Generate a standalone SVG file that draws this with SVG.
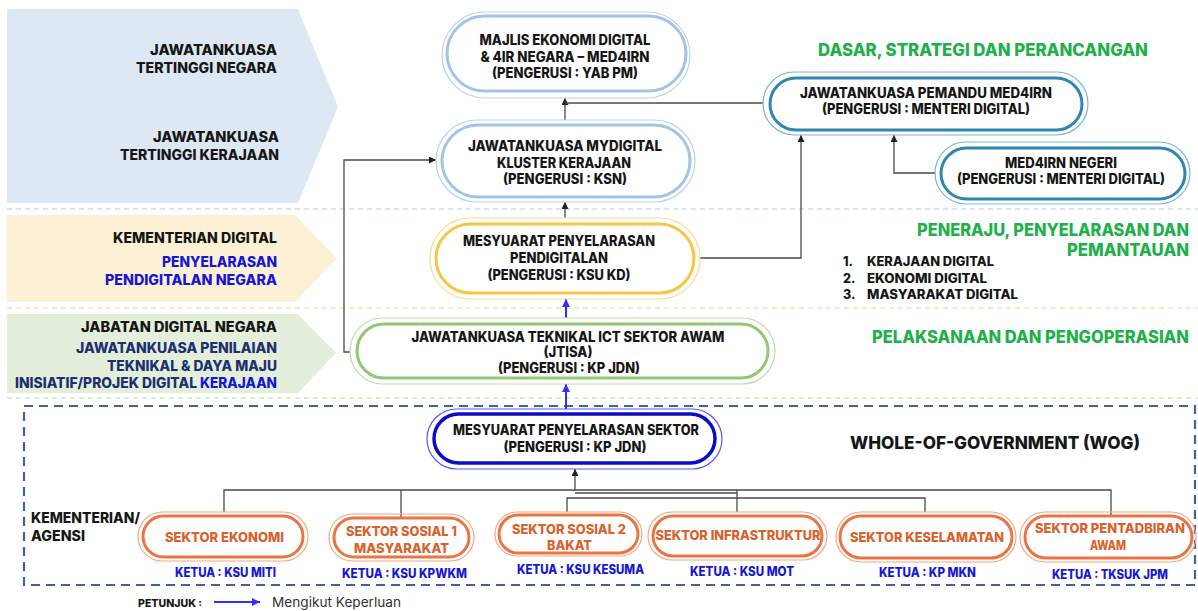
<svg xmlns="http://www.w3.org/2000/svg" width="1198" height="611" viewBox="0 0 1198 611">
<style>
text{font-family:Inter,"Liberation Sans",sans-serif;font-weight:800}
.k{fill:#161616}
.lb{font-size:14px;text-anchor:end}
.nt{font-size:14px;text-anchor:middle;fill:#161616}
.gt{font-size:17px;fill:#1fb04c}
.li{font-size:12.5px;fill:#161616}
.st{font-size:13.5px;text-anchor:middle;fill:#d9612c}
.kt{font-size:12.5px;text-anchor:middle;fill:#1616d8}
.bl{fill:#1616d8}
.nv{fill:#1d2f6f}
.sep{fill:none;stroke-width:1.5;stroke-dasharray:5 4}
.o{fill:none;stroke-width:1.2}
.i{fill:#fff;stroke-width:3}
.nb .o{stroke:#b9d2ee}.nb .i{stroke:#a3c3e8}
.ntl .o{stroke:#7ab6d4}.ntl .i{stroke:#2f86b0}
.ny .o{stroke:#f8dc8c}.ny .i{stroke:#f6c646}
.ng .o{stroke:#bcdca6}.ng .i{stroke:#95c674}
.nd .o{stroke:#5a5ae6}.nd .i{stroke:#0c0cc6;stroke-width:3.5}
.so .o{stroke:#f2a884}.so .i{stroke:#ea7442}
.cn{fill:none;stroke:#4a4a4a;stroke-width:1.3}
.cb{fill:none;stroke:#2f2fff;stroke-width:2}
</style>
<defs>
<marker id="ah" viewBox="0 0 10 10" refX="10" refY="5" markerWidth="7" markerHeight="7" markerUnits="userSpaceOnUse" orient="auto"><path d="M0,0 L10,5 L0,10 z" fill="#222"/></marker>
<marker id="ab" viewBox="0 0 10 10" refX="10" refY="5" markerWidth="8" markerHeight="8" markerUnits="userSpaceOnUse" orient="auto"><path d="M0,0 L10,5 L0,10 z" fill="#2f2fff"/></marker>
</defs>
<rect width="1198" height="611" fill="#fff"/>

<g id="bands">
<polygon points="7,9 298,9 338,107 298,203 7,203" fill="#dde8f4"/>
<polygon points="7,215 295,215 337,258 295,302 7,302" fill="#fdf1d5"/>
<polygon points="7,314 298,314 336,353 298,393 7,393" fill="#e3efdb"/>
<line class="sep" x1="7" y1="209" x2="1198" y2="209" stroke="#c9dbf0"/>
<line class="sep" x1="7" y1="308" x2="1198" y2="308" stroke="#fbe4ad"/>
<line class="sep" x1="7" y1="398" x2="1198" y2="398" stroke="#cfe8c0"/>
<rect x="24" y="406" width="1171" height="179" fill="none" stroke="#41629b" stroke-width="2.2" stroke-dasharray="9 6"/>
</g>

<g id="left-labels">
<text class="lb k" x="277" y="55" textLength="127" lengthAdjust="spacingAndGlyphs">JAWATANKUASA</text>
<text class="lb k" x="277" y="73" textLength="141" lengthAdjust="spacingAndGlyphs">TERTINGGI NEGARA</text>
<text class="lb k" x="279" y="142" textLength="126" lengthAdjust="spacingAndGlyphs">JAWATANKUASA</text>
<text class="lb k" x="279" y="160" textLength="159" lengthAdjust="spacingAndGlyphs">TERTINGGI KERAJAAN</text>
<text class="lb k" x="277" y="243" textLength="164" lengthAdjust="spacingAndGlyphs">KEMENTERIAN DIGITAL</text>
<text class="lb bl" x="277" y="267" textLength="115" lengthAdjust="spacingAndGlyphs">PENYELARASAN</text>
<text class="lb bl" x="277" y="285" textLength="172" lengthAdjust="spacingAndGlyphs">PENDIGITALAN NEGARA</text>
<text class="lb k" x="277" y="332" textLength="196" lengthAdjust="spacingAndGlyphs">JABATAN DIGITAL NEGARA</text>
<text class="lb nv" x="277" y="353" textLength="201" lengthAdjust="spacingAndGlyphs">JAWATANKUASA PENILAIAN</text>
<text class="lb nv" x="277" y="371" textLength="170" lengthAdjust="spacingAndGlyphs">TEKNIKAL &amp; DAYA MAJU</text>
<text class="nv" font-size="14" x="15" y="388" textLength="182" lengthAdjust="spacingAndGlyphs">INISIATIF/PROJEK DIGITAL</text>
<text class="bl" font-size="14" x="200" y="388" textLength="77" lengthAdjust="spacingAndGlyphs">KERAJAAN</text>
<text class="k" font-size="14" x="31" y="523" textLength="109" lengthAdjust="spacingAndGlyphs">KEMENTERIAN/</text>
<text class="k" font-size="14" x="31" y="541" textLength="54" lengthAdjust="spacingAndGlyphs">AGENSI</text>
</g>

<g id="right-labels">
<text class="gt" x="818" y="56" textLength="330" lengthAdjust="spacingAndGlyphs">DASAR, STRATEGI DAN PERANCANGAN</text>
<text class="gt" x="917" y="236" textLength="272" lengthAdjust="spacingAndGlyphs">PENERAJU, PENYELARASAN DAN</text>
<text class="gt" x="1067" y="256" textLength="122" lengthAdjust="spacingAndGlyphs">PEMANTAUAN</text>
<text class="gt" x="872" y="343" textLength="317" lengthAdjust="spacingAndGlyphs">PELAKSANAAN DAN PENGOPERASIAN</text>
<text class="li" x="843" y="266">1.</text>
<text class="li" x="867" y="266" textLength="127" lengthAdjust="spacingAndGlyphs">KERAJAAN DIGITAL</text>
<text class="li" x="843" y="283">2.</text>
<text class="li" x="867" y="283" textLength="120" lengthAdjust="spacingAndGlyphs">EKONOMI DIGITAL</text>
<text class="li" x="843" y="299">3.</text>
<text class="li" x="867" y="299" textLength="151" lengthAdjust="spacingAndGlyphs">MASYARAKAT DIGITAL</text>
<text class="k" font-size="18" x="850" y="449" textLength="290" lengthAdjust="spacingAndGlyphs">WHOLE-OF-GOVERNMENT (WOG)</text>
</g>

<g id="connectors">
<path class="cn" d="M565,120 V98" marker-end="url(#ah)"/>
<path class="cn" d="M763,103 H565"/>
<path class="cn" d="M350,352 H344 V160 H436" marker-end="url(#ah)"/>
<path class="cn" d="M565,218 V202" marker-end="url(#ah)"/>
<path class="cn" d="M700,258 H801 V135" marker-end="url(#ah)"/>
<path class="cn" d="M935,173 H894 V135" marker-end="url(#ah)"/>
<path class="cb" d="M566,318 V299" marker-end="url(#ab)"/>
<path class="cb" d="M566,409 V384" marker-end="url(#ab)"/>
<path class="cn" d="M575,490 V469" marker-end="url(#ah)"/>
<path class="cn" d="M224,512 V490 H1111 V515"/>
<path class="cn" d="M401,490 V518"/>
<path class="cn" d="M737,490 V512"/>
<path class="cn" d="M575,493 H737"/>
<path class="cn" d="M567,512 V498 H925 V512"/>
<path class="cb" d="M214,602 H260" stroke-width="1.5" marker-end="url(#ab)"/>
</g>

<g id="n-med4irn" class="nb">
<rect class="o" x="442" y="12" width="248" height="86" rx="43"/>
<rect class="i" x="447" y="16" width="239" height="75" rx="37.5"/>
<text class="nt" x="565" y="45" textLength="171" lengthAdjust="spacingAndGlyphs">MAJLIS EKONOMI DIGITAL</text>
<text class="nt" x="565" y="62" textLength="169" lengthAdjust="spacingAndGlyphs">&amp; 4IR NEGARA – MED4IRN</text>
<text class="nt" x="565" y="78" textLength="146" lengthAdjust="spacingAndGlyphs">(PENGERUSI : YAB PM)</text>
</g>

<g id="n-mydigital" class="nb">
<rect class="o" x="436" y="120" width="259" height="82" rx="41"/>
<rect class="i" x="442" y="125" width="248" height="72" rx="36"/>
<text class="nt" x="565" y="151" textLength="194" lengthAdjust="spacingAndGlyphs">JAWATANKUASA MYDIGITAL</text>
<text class="nt" x="564" y="168" textLength="134" lengthAdjust="spacingAndGlyphs">KLUSTER KERAJAAN</text>
<text class="nt" x="565" y="184" textLength="124" lengthAdjust="spacingAndGlyphs">(PENGERUSI : KSN)</text>
</g>

<g id="n-pemandu" class="ntl">
<rect class="o" x="763" y="72" width="325" height="63" rx="31.5"/>
<rect class="i" x="770" y="78" width="312" height="52" rx="26"/>
<text class="nt" x="926" y="98" textLength="252" lengthAdjust="spacingAndGlyphs">JAWATANKUASA PEMANDU MED4IRN</text>
<text class="nt" x="926" y="114" textLength="208" lengthAdjust="spacingAndGlyphs">(PENGERUSI : MENTERI DIGITAL)</text>
</g>

<g id="n-negeri" class="ntl">
<rect class="o" x="935" y="142" width="255" height="62" rx="31"/>
<rect class="i" x="941" y="148" width="244" height="51" rx="25.5"/>
<text class="nt" x="1061" y="168" textLength="112" lengthAdjust="spacingAndGlyphs">MED4IRN NEGERI</text>
<text class="nt" x="1061" y="184" textLength="208" lengthAdjust="spacingAndGlyphs">(PENGERUSI : MENTERI DIGITAL)</text>
</g>

<g id="n-pendigitalan" class="ny">
<rect class="o" x="430" y="218" width="270" height="81" rx="40.5"/>
<rect class="i" x="436" y="224" width="258" height="69" rx="34.5"/>
<text class="nt" x="559" y="246" textLength="192" lengthAdjust="spacingAndGlyphs">MESYUARAT PENYELARASAN</text>
<text class="nt" x="559" y="263" textLength="98" lengthAdjust="spacingAndGlyphs">PENDIGITALAN</text>
<text class="nt" x="559" y="280" textLength="143" lengthAdjust="spacingAndGlyphs">(PENGERUSI : KSU KD)</text>
</g>

<g id="n-jtisa" class="ng">
<rect class="o" x="350" y="318" width="425" height="66" rx="33"/>
<rect class="i" x="357" y="324" width="411" height="54" rx="27"/>
<text class="nt" x="568" y="342" textLength="313" lengthAdjust="spacingAndGlyphs">JAWATANKUASA TEKNIKAL ICT SEKTOR AWAM</text>
<text class="nt" x="568" y="357" textLength="49" lengthAdjust="spacingAndGlyphs">(JTISA)</text>
<text class="nt" x="569" y="373" textLength="142" lengthAdjust="spacingAndGlyphs">(PENGERUSI : KP JDN)</text>
</g>

<g id="n-sektor" class="nd">
<rect class="o" x="427" y="409" width="295" height="60" rx="30"/>
<rect class="i" x="434" y="414" width="281" height="49" rx="24.5"/>
<text class="nt" x="576" y="435" textLength="246" lengthAdjust="spacingAndGlyphs">MESYUARAT PENYELARASAN SEKTOR</text>
<text class="nt" x="575" y="452" textLength="143" lengthAdjust="spacingAndGlyphs">(PENGERUSI : KP JDN)</text>
</g>

<g id="s-ekonomi" class="so">
<rect class="o" x="138" y="512" width="170" height="49" rx="24.5"/>
<rect class="i" x="143" y="516" width="160" height="41" rx="20.5"/>
<text class="st" x="224.5" y="542" textLength="119" lengthAdjust="spacingAndGlyphs">SEKTOR EKONOMI</text>
<text class="kt" x="225.5" y="577" textLength="101" lengthAdjust="spacingAndGlyphs">KETUA : KSU MITI</text>
</g>

<g id="s-sosial1" class="so">
<rect class="o" x="329" y="514" width="145" height="47" rx="23.5"/>
<rect class="i" x="334" y="518" width="135" height="39" rx="19.5"/>
<text class="st" x="401.5" y="536" textLength="111" lengthAdjust="spacingAndGlyphs">SEKTOR SOSIAL 1</text>
<text class="st" x="401.5" y="553" textLength="95" lengthAdjust="spacingAndGlyphs">MASYARAKAT</text>
<text class="kt" x="404.5" y="578" textLength="125" lengthAdjust="spacingAndGlyphs">KETUA : KSU KPWKM</text>
</g>

<g id="s-sosial2" class="so">
<rect class="o" x="495" y="512" width="147" height="44" rx="22"/>
<rect class="i" x="499" y="515" width="139" height="38" rx="19"/>
<text class="st" x="569" y="534" textLength="114" lengthAdjust="spacingAndGlyphs">SEKTOR SOSIAL 2</text>
<text class="st" x="569.5" y="550" textLength="45" lengthAdjust="spacingAndGlyphs">BAKAT</text>
<text class="kt" x="580.5" y="574" textLength="127" lengthAdjust="spacingAndGlyphs">KETUA : KSU KESUMA</text>
</g>

<g id="s-infrastruktur" class="so">
<rect class="o" x="648" y="512" width="179" height="48" rx="24"/>
<rect class="i" x="653" y="516" width="169" height="40" rx="20"/>
<text class="st" x="738" y="540" textLength="165" lengthAdjust="spacingAndGlyphs">SEKTOR INFRASTRUKTUR</text>
<text class="kt" x="742" y="576" textLength="104" lengthAdjust="spacingAndGlyphs">KETUA : KSU MOT</text>
</g>

<g id="s-keselamatan" class="so">
<rect class="o" x="836" y="512" width="180" height="50" rx="25"/>
<rect class="i" x="840" y="516" width="172" height="42" rx="21"/>
<text class="st" x="927" y="542" textLength="154" lengthAdjust="spacingAndGlyphs">SEKTOR KESELAMATAN</text>
<text class="kt" x="927.5" y="577" textLength="97" lengthAdjust="spacingAndGlyphs">KETUA : KP MKN</text>
</g>

<g id="s-pentadbiran" class="so">
<rect class="o" x="1020" y="512" width="176" height="50" rx="25"/>
<rect class="i" x="1025" y="516" width="167" height="42" rx="21"/>
<text class="st" x="1110" y="533" textLength="150" lengthAdjust="spacingAndGlyphs">SEKTOR PENTADBIRAN</text>
<text class="st" x="1108" y="550" textLength="36" lengthAdjust="spacingAndGlyphs">AWAM</text>
<text class="kt" x="1110" y="579" textLength="116" lengthAdjust="spacingAndGlyphs">KETUA : TKSUK JPM</text>
</g>

<g id="legend">
<text class="k" font-size="10" x="138" y="607" textLength="64" lengthAdjust="spacingAndGlyphs">PETUNJUK :</text>
<text x="272" y="607" font-size="13" style="font-weight:400" fill="#333" textLength="129" lengthAdjust="spacingAndGlyphs">Mengikut Keperluan</text>
</g>
</svg>
